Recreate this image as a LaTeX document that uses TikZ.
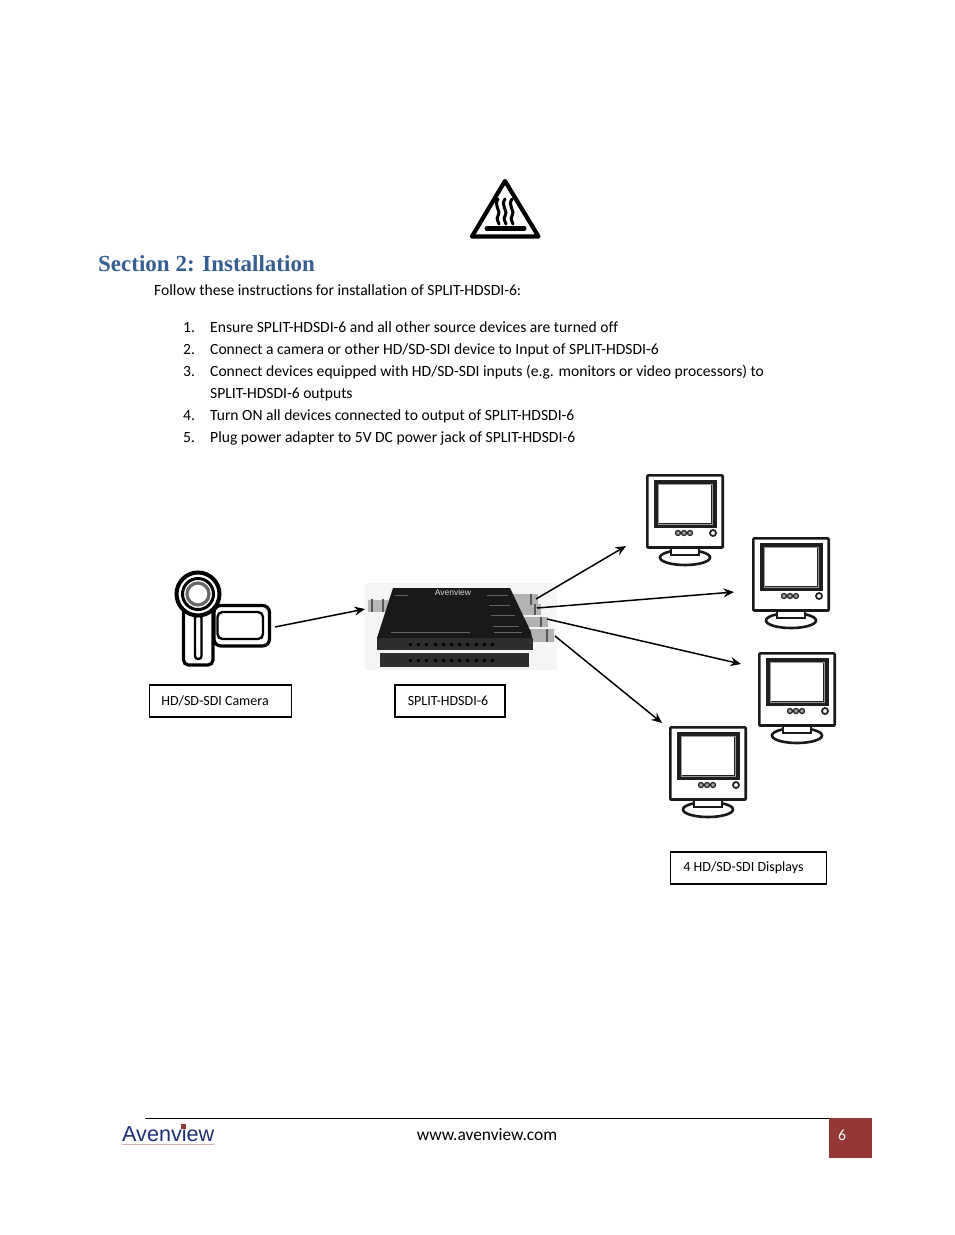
\documentclass[tikz,border=0pt]{standalone}
\usepackage{fontspec}
\setmainfont[Ligatures=NoCommon,Contextuals=NoAlternate]{Carlito}
\newfontfamily\headfont{Liberation Serif}
\newfontfamily\logofont{Liberation Sans}
\usetikzlibrary{arrows.meta}
\definecolor{headblue}{HTML}{365F91}
\definecolor{pagered}{HTML}{953735}
\definecolor{logoblue}{HTML}{1F2F75}
\tikzset{
  body/.style={anchor=base west,inner sep=0pt,font=\fontsize{15.6}{18}\selectfont},
  label/.style={draw,line width=1.1pt,minimum height=32pt,inner sep=0pt,font=\fontsize{14}{16}\selectfont},
  link/.style={-{Stealth[length=10.5pt,width=9pt]},line width=1.5pt},
  sketch/.style={draw=black!90,line width=2.6pt},
  monitor/.pic={
    \draw[sketch,fill=white] (39,83.5) ellipse (25 and 7.5);
    \draw[sketch,fill=white] (25,70) rectangle (53,81);
    \draw[sketch,fill=white,rounded corners=1pt] (1.3,1.3) rectangle (76.7,73.5);
    \draw[line width=5.5pt,draw=black!88] (10.5,8.5) rectangle (68,51.5);
    \draw[line width=.8pt,draw=black!40] (12,10) rectangle (66.5,50);
    \draw[line width=1.3pt,draw=black!85,fill=black!35] (32,59) circle (2.5) (38,59) circle (2.5) (44,59) circle (2.5);
    \draw[line width=1.8pt,draw=black!85] (67,59) circle (3);
  }
}
\begin{document}
\begin{tikzpicture}[x=1pt,y=-1pt]
\useasboundingbox[fill=white] (0,0) rectangle (954,1235);

% hot surface sign
\draw[line width=4.2pt,line join=round] (505,181) -- (538.5,236.5) -- (472,236.5) -- cycle;
\draw[line width=5pt,line cap=round] (487,228.5) -- (524,228.5);
\draw[line width=3pt,line cap=round] (498,199) .. controls (493,206) and (502,211) .. (498,216) .. controls (496,219) and (498,221) .. (499,224);
\draw[line width=3pt,line cap=round] (505,199) .. controls (500,206) and (509,211) .. (505,216) .. controls (503,219) and (505,221) .. (506,224);
\draw[line width=3pt,line cap=round] (512,199) .. controls (507,206) and (516,211) .. (512,216) .. controls (510,219) and (512,221) .. (513,224);

\node[anchor=base west,inner sep=0pt,text=headblue,font=\headfont\bfseries\fontsize{23}{26}\selectfont] (title) at (98,271) {Section 2: Installation};
\node[body] (intro) at (154,295) {Follow these instructions for installation of SPLIT-HDSDI-6:};

\node[body] (numa) at (183,332) {1.};
\node[body] (numb) at (183,354) {2.};
\node[body] (numc) at (183,376) {3.};
\node[body] (numd) at (183,420) {4.};
\node[body] (nume) at (183,442) {5.};
\node[body] (stepa) at (210,332) {Ensure SPLIT-HDSDI-6 and all other source devices are turned off};
\node[body] (stepb) at (210,354) {Connect a camera or other HD/SD-SDI device to Input of SPLIT-HDSDI-6};
\node[body] (stepc) at (210,376) {Connect devices equipped with HD/SD-SDI inputs (e.g. monitors or video processors) to};
\node[body] (stepcc) at (210,398) {SPLIT-HDSDI-6 outputs};
\node[body] (stepd) at (210,420) {Turn ON all devices connected to output of SPLIT-HDSDI-6};
\node[body] (stepe) at (210,442) {Plug power adapter to 5V DC power jack of SPLIT-HDSDI-6};

% camera
\draw[line width=3.2pt,fill=white,rounded corners=7pt] (214,605.5) rectangle (269.5,646);
\draw[line width=2.4pt,rounded corners=5pt] (217.5,612) rectangle (263,639);
\draw[line width=3.2pt,fill=white,rounded corners=5pt] (183.5,610) -- (183.5,665) -- (213,665) -- (213,610);
\draw[line width=4pt,fill=white] (198,594) circle (21.5);
\draw[line width=3pt] (198,594) circle (15.5);
\draw[line width=3.2pt,draw=black!60] (198,594) circle (11);
\draw[line width=2.4pt,rounded corners=3pt] (195,615) rectangle (201.5,659);

% splitter
\fill[black!4] (365,583) rectangle (557,670);
\fill[black!28] (368,600) rectangle (392,612);
\draw[black!65,line width=1.5pt] (372,599) -- (372,612) (383,599) -- (383,612);
\fill[black!30] (512,594) rectangle (538,605);
\fill[black!30] (516,604) rectangle (541,615);
\fill[black!30] (520,617) rectangle (548,627);
\fill[black!30] (526,629) rectangle (554,642);
\draw[black!65,line width=1.5pt] (531,594) -- (531,605) (535,604) -- (535,615) (541,617) -- (541,627) (547,629) -- (547,642);
\fill[black!90] (393,588) -- (510,588) -- (531,632) -- (532,638) -- (377,638) -- cycle;
\fill[black!82] (377,638) rectangle (533,650);
\fill[black!82] (380,653) rectangle (529,667);
\draw[black,line width=3pt,dash pattern=on 3pt off 5.2pt] (409,644) -- (497,644);
\draw[black,line width=3pt,dash pattern=on 3pt off 5.2pt] (409,660) -- (497,660);
\draw[black!60,line width=.9pt] (395,595) -- (408,595) (487,595) -- (508,595) (489,605) -- (510,605) (491,615) -- (515,615) (493,626) -- (519,626) (391,632) -- (470,632) (494,632) -- (522,632);
\node[text=white!85!black,inner sep=0pt,font=\logofont\fontsize{8.5}{9}\selectfont] (brand) at (453,592.5) {Avenview};
\coordinate (camout) at (275,627);
\coordinate (splitin) at (365,609);
\coordinate (porta) at (536,599);
\coordinate (portb) at (537,608);
\coordinate (portc) at (547,619);
\coordinate (portd) at (555,636);
\coordinate (mona) at (626,546);
\coordinate (monb) at (734,592);
\coordinate (monc) at (741,664);
\coordinate (mond) at (662,723);

\draw[link] (camout) -- (splitin);
\draw[link] (porta) -- (mona);
\draw[link] (portb) -- (monb);
\draw[link] (portc) -- (monc);
\draw[link] (portd) -- (mond);

\pic at (646,474) {monitor};
\pic at (752,537) {monitor};
\pic at (758,652) {monitor};
\pic at (669,726) {monitor};

\node[label,minimum width=142pt] (camlabel) at (220.5,701) {\hspace*{-11pt}HD/SD-SDI Camera};
\node[label,minimum width=110pt] (splitlabel) at (450,701) {\hspace*{-4pt}SPLIT-HDSDI-6};
\node[label,minimum width=156pt] (monlabel) at (748.5,868) {\hspace*{-10pt}4 HD/SD-SDI Displays};

% footer
\draw[line width=1pt] (145,1118) -- (829,1118);
\fill[pagered] (829,1118) rectangle (872,1158);
\node[text=white,inner sep=0pt,font=\fontsize{15.7}{18}\selectfont] (pagenum) at (842,1135) {6};
\node[inner sep=0pt,font=\fontsize{17.4}{20}\selectfont] (web) at (487,1135) {www.avenview.com};
\node[anchor=base west,inner sep=0pt,text=logoblue,font=\logofont\fontsize{21.6}{26}\selectfont] (logo) at (122,1141) {Avenview};
\fill[pagered] (180.5,1123.5) rectangle (185.5,1128.5);
\draw[pagered!40,line width=.8pt] (122,1144.5) -- (214,1144.5);
\end{tikzpicture}
\end{document}
